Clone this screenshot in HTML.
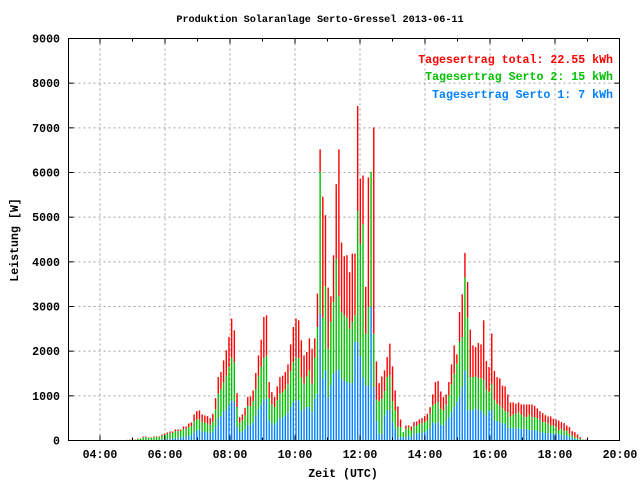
<!DOCTYPE html>
<html><head><meta charset="utf-8">
<style>
html,body{margin:0;padding:0;background:#fff;}
svg{display:block;}
text{font-family:"Liberation Mono","DejaVu Sans Mono",monospace;font-weight:bold;}
</style></head>
<body>
<svg id="chart" width="640" height="480" viewBox="0 0 640 480" xmlns="http://www.w3.org/2000/svg">
<rect x="0" y="0" width="640" height="480" fill="#fff"/>
<text x="320" y="22" text-anchor="middle" font-size="10.2" fill="#000">Produktion Solaranlage Serto-Gressel 2013-06-11</text>
<g id="grid"></g>
<g id="bars"></g>
<g id="axes"></g>
<text x="613" y="63" text-anchor="end" font-size="11.6" fill="#ff0000">Tagesertrag total: 22.55 kWh</text>
<text x="613" y="80" text-anchor="end" font-size="11.6" fill="#00c000">Tagesertrag Serto 2: 15 kWh</text>
<text x="613" y="98" text-anchor="end" font-size="11.6" fill="#0080ff">Tagesertrag Serto 1: 7 kWh</text>
<text transform="translate(18,240) rotate(-90)" text-anchor="middle" font-size="11.6" fill="#000">Leistung [W]</text>
<text x="343" y="477" text-anchor="middle" font-size="11.6" fill="#000">Zeit (UTC)</text>
</svg>
<script>
const startMinutes = 290;      // 04:50
const stepMinutes = 4.95;
const yTicks = [0,1000,2000,3000,4000,5000,6000,7000,8000,9000];
const xTickHours = [4,6,8,10,12,14,16,18,20];
const xTickLabels = ["04:00","06:00","08:00","10:00","12:00","14:00","16:00","18:00","20:00"];
const serto1 = [0,0,0,0,0,0,0,5,5,5,10,10,15,20,25,30,40,40,60,60,70,90,90,110,120,180,230,240,200,190,180,170,200,300,500,550,650,700,800,900,850,300,180,200,260,350,350,400,550,700,800,900,950,450,380,350,430,500,520,550,620,750,850,900,900,
658,710,747,747,635,934,1046,2840,1383,1584,972,1233,1495,1570,1584,1383,1345,1308,1285,1285,2205,2205,1883,1420,1233,1233,2990,1196,433,150,150,561,688,673,411,262,75,
75,75,75,112,75,150,164,164,187,187,224,284,411,374,411,351,336,448,523,635,747,860,972,1196,1569,673,673,673,725,688,673,598,561,673,673,448,433,411,389,374,284,284,284,262,284,262,262,262,239,239,224,224,187,187,164,164,164,150,150,135,135,112,112,75,60,37,30,15,0,0];
const serto2 = [10,15,35,15,35,35,70,70,50,50,65,65,60,90,100,120,130,130,150,150,150,170,170,190,200,250,240,240,220,210,200,180,220,400,550,600,650,750,850,950,900,450,220,250,300,420,420,480,600,750,850,950,950,500,430,400,470,550,560,600,650,800,900,950,950,
762,561,688,823,636,919,1495,3176,1367,1869,1083,1420,1607,2503,1645,1494,1458,1442,1219,1368,598,2937,2527,3423,1159,1757,3026,1196,479,732,784,545,732,784,471,411,239,
224,112,187,187,149,164,165,210,202,224,224,314,374,448,448,359,337,352,486,621,748,859,1233,1121,2078,2077,747,747,710,717,725,762,575,410,597,464,389,374,321,284,351,254,299,336,351,321,276,261,344,284,299,277,276,224,247,210,172,186,149,89,127,97,112,75,52,38,30,22,22,0];
const total = [15,22,45,22,45,45,90,90,67,67,90,90,90,135,157,180,202,202,247,247,247,314,314,381,404,583,658,673,583,561,546,501,598,949,1420,1532,1794,2018,2317,2728,2466,1061,523,583,725,972,987,1121,1510,1906,2257,2765,2803,1308,1084,972,1211,1420,1450,1532,1704,2152,2541,2728,2691,
2242,1906,1981,2287,2055,2287,3289,6517,5456,5045,3423,3229,4148,5740,6517,4432,4126,4148,3767,4185,4185,7489,5860,5934,3438,5889,6016,7010,1771,1285,1435,1570,1868,2167,1659,1121,762,
471,187,336,336,314,411,426,471,501,546,598,747,1031,1308,1330,1098,972,1031,1308,1704,2130,1928,2877,3273,4200,3550,2481,2130,2092,2182,2152,2691,1779,1644,2392,1555,1420,1390,1226,1211,1031,852,852,822,852,807,807,807,807,807,777,718,658,613,568,538,538,486,471,448,411,389,336,299,209,187,135,75,22,20];

const NS = "http://www.w3.org/2000/svg";
const L = 68.5, R = 619.5, T = 38.5, B = 440.5;
function xScale(hours){ return 100 + (hours - 4) * 32.5; }
function yScale(v){ return B - v / 9000 * (B - T); }
function mk(tag, attrs, parent){
  const e = document.createElementNS(NS, tag);
  for (const k in attrs) e.setAttribute(k, attrs[k]);
  parent.appendChild(e); return e;
}
const grid = document.getElementById('grid');
const axes = document.getElementById('axes');
const bars = document.getElementById('bars');

// grid
yTicks.forEach(v => {
  if (v === 0 || v === 9000) return;
  const l = mk('line', {x1:L, x2:R, y1:yScale(v), y2:yScale(v), stroke:'#a0a0a0', 'stroke-width':1, 'stroke-dasharray':'2,3'}, grid);
  
  
});
xTickHours.forEach(h => {
  if (h === 20) return;
  const l = mk('line', {x1:xScale(h), x2:xScale(h), y1:T, y2:B, stroke:'#a0a0a0', 'stroke-width':1, 'stroke-dasharray':'2,3'}, grid);
  
  
});

// bars
const bw = 1.4;
for (let i = 0; i < total.length; i++) {
  const h = (startMinutes + i * stepMinutes) / 60;
  const x = xScale(h) - bw / 2;
  const b = serto1[i], g = serto2[i], t = total[i];
  const segs = [[0, b, '#0080ff', 'bar-serto-1'], [b, b + g, '#00c000', 'bar-serto-2'], [b + g, Math.max(t, b + g), '#ff0000', 'bar-total-remainder']];
  segs.forEach(s => {
    if (s[1] <= s[0]) return;
    const r = mk('rect', {x:x, y:yScale(s[1]), width:bw, height:yScale(s[0]) - yScale(s[1]), fill:s[2]}, bars);
    
    
  });
}

// frame
const f = mk('rect', {x:L, y:T, width:R - L, height:B - T, fill:'none', stroke:'#000', 'stroke-width':1}, axes);



yTicks.forEach(v => {
  const y = yScale(v);
  mk('line', {x1:L, x2:L + 5, y1:y, y2:y, stroke:'#000'}, axes);
  mk('line', {x1:R, x2:R - 5, y1:y, y2:y, stroke:'#000'}, axes);
  const t = mk('text', {x:60, y:y + 4, 'text-anchor':'end', 'font-size':'11.6', fill:'#000'}, axes);
  t.textContent = v;
  
  
});
for (let h = 4; h <= 19; h++) {
  const x = xScale(h), len = (h % 2 === 0) ? 5 : 3;
  mk('line', {x1:x, x2:x, y1:B, y2:B - len, stroke:'#000'}, axes);
  mk('line', {x1:x, x2:x, y1:T, y2:T + len, stroke:'#000'}, axes);
}
xTickHours.forEach((h, i) => {
  const t = mk('text', {x:xScale(h), y:458, 'text-anchor':'middle', 'font-size':'11.6', fill:'#000'}, axes);
  t.textContent = xTickLabels[i];
  
  
});
</script>
</body></html>
